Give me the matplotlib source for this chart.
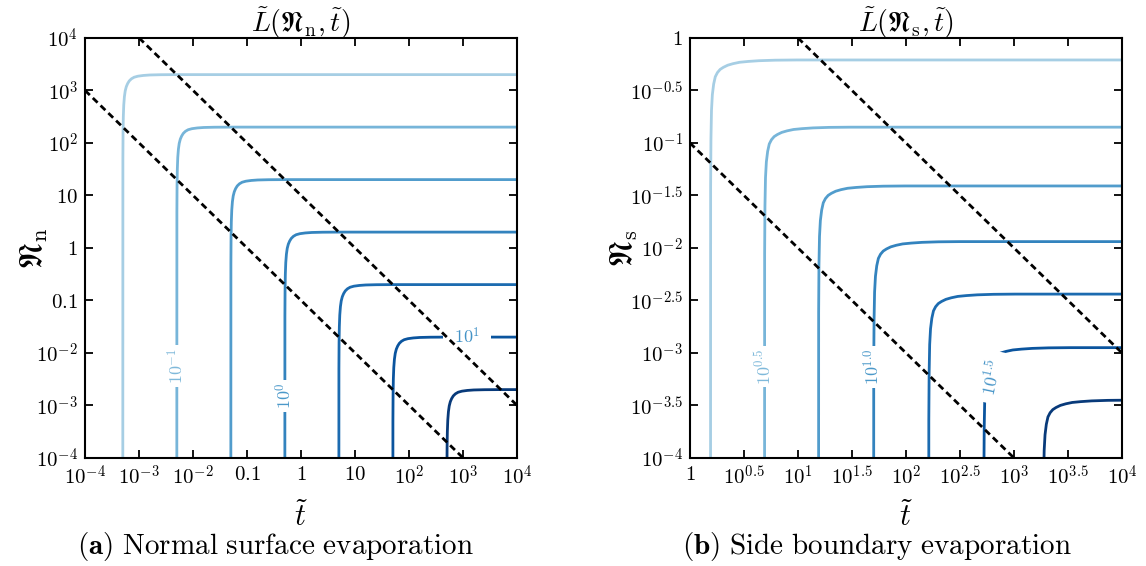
import numpy as np
import matplotlib
matplotlib.use('Agg')
import matplotlib.pyplot as plt
from matplotlib.ticker import FixedLocator, NullLocator

plt.rcParams['mathtext.fontset'] = 'cm'
plt.rcParams['font.family'] = 'serif'

# --- datos ---
# (a) evaporacion superficie normal: asintotas de cada contorno
left_t0 = [5e-4, 5e-3, 5e-2, 0.5, 5, 50, 500]
left_n0 = [2000, 200, 20, 2, 0.2, 0.02, 0.002]
# (b) evaporacion borde lateral (en decadas)
right_logt0 = [0.19, 0.69, 1.19, 1.70, 2.21, 2.72, 3.27]
right_logn0 = [-0.21, -0.85, -1.41, -1.94, -2.44, -2.95, -3.45]

# forma de la esquina de cada contorno: decadas despues de t0 / decadas bajo N0
left_du = [0.0, 0.002, 0.005, 0.01, 0.018, 0.03, 0.045, 0.065, 0.09, 0.12, 0.16,
           0.21, 0.28, 0.38, 0.5, 0.7, 1.0]
left_dn = [-9.0, -1.6, -1.1, -0.8, -0.58, -0.42, -0.31, -0.23, -0.17, -0.12, -0.08,
           -0.05, -0.03, -0.016, -0.007, -0.002, 0.0]
right_du = [0.0, 0.002, 0.005, 0.01, 0.018, 0.03, 0.045, 0.065, 0.09, 0.12, 0.16,
            0.21, 0.27, 0.35, 0.45, 0.6, 0.8]
right_dn = [-9.0, -1.2, -0.75, -0.48, -0.33, -0.23, -0.16, -0.12, -0.09, -0.07, -0.05,
            -0.035, -0.022, -0.014, -0.007, -0.002, 0.0]

# rectas punteadas (extremos)
left_dash_t = [[1e-3, 1e4], [1e-4, 1e3]]
left_dash_n = [[1e4, 1e-3], [1e3, 1e-4]]
right_dash_t = [[10, 1e4], [1, 1e3]]
right_dash_n = [[1, 1e-3], [1e-1, 1e-4]]

# etiquetas de contorno: (texto, indice de curva, t, N, rotacion, margen)
left_labels = [(r'$10^{-1}$', 1, 5e-3, 10**-2.25, 90, 0.15),
               (r'$10^{0}$', 3, 0.5, 10**-2.82, 90, 0.15),
               (r'$10^{1}$', 5, 1200, 0.02, 0, 0.6)]
right_labels = [(r'$10^{0.5}$', 1, 10**0.69, 10**-3.13, 90, 0.15),
                (r'$10^{1.0}$', 3, 10**1.70, 10**-3.13, 90, 0.15),
                (r'$10^{1.5}$', 5, 10**2.80, 10**-3.23, 78, 0.45)]

left_ticks = [1e-4, 1e-3, 1e-2, 0.1, 1, 10, 1e2, 1e3, 1e4]
left_ticklabels = [r'$10^{-4}$', r'$10^{-3}$', r'$10^{-2}$', r'$0.1$', r'$1$',
                   r'$10$', r'$10^{2}$', r'$10^{3}$', r'$10^{4}$']
right_xexp = [0, 0.5, 1, 1.5, 2, 2.5, 3, 3.5, 4]
right_xticklabels = [r'$1$', r'$10^{0.5}$', r'$10^{1}$', r'$10^{1.5}$', r'$10^{2}$',
                     r'$10^{2.5}$', r'$10^{3}$', r'$10^{3.5}$', r'$10^{4}$']
right_yexp = [0, -0.5, -1, -1.5, -2, -2.5, -3, -3.5, -4]
right_yticklabels = [r'$1$', r'$10^{-0.5}$', r'$10^{-1}$', r'$10^{-1.5}$', r'$10^{-2}$',
                     r'$10^{-2.5}$', r'$10^{-3}$', r'$10^{-3.5}$', r'$10^{-4}$']

colores = [plt.cm.Blues(v) for v in [0.35, 0.47, 0.58, 0.68, 0.77, 0.86, 0.96]]
colores_lbl = [plt.cm.Blues(v) for v in [0.35, 0.45, 0.55, 0.6, 0.65, 0.62, 0.7]]

fig = plt.figure(figsize=(11.46, 5.66), dpi=100)
axL = fig.add_axes([0.0742, 0.191, 0.377, 0.742])
axR = fig.add_axes([0.602, 0.191, 0.377, 0.742])


def dibujar(ax, t0s, n0s, du, dn, xmax, labels, dash_t, dash_n):
    for i, (t0, n0) in enumerate(zip(t0s, n0s)):
        t = [t0 * 10**u for u in du] + [xmax * 2]
        n = [n0 * 10**d for d in dn] + [n0]
        ax.plot(t, n, color=colores[i], lw=2.0, zorder=2)
    # etiquetas con fondo blanco para cortar la curva (como clabel)
    for txt, i, t, n, rot, pad in labels:
        ax.text(t, n, txt, color=colores_lbl[i], fontsize=13, rotation=rot,
                ha='center', va='center', rotation_mode='anchor', zorder=3,
                bbox=dict(boxstyle='square,pad=%.2f' % pad, fc='white', ec='none'))
    for tt, nn in zip(dash_t, dash_n):
        ax.plot(tt, nn, color='black', lw=2.0, linestyle=(0, (2.4, 1.5)), zorder=4)


dibujar(axL, left_t0, left_n0, left_du, left_dn, 1e4, left_labels, left_dash_t, left_dash_n)
dibujar(axR, [10**v for v in right_logt0], [10**v for v in right_logn0], right_du, right_dn,
        1e4, right_labels, right_dash_t, right_dash_n)

for ax in (axL, axR):
    ax.set_xscale('log')
    ax.set_yscale('log')
    ax.tick_params(which='major', direction='in', top=True, right=True,
                   length=6, width=1.3, labelsize=15, pad=5)
    for s in ax.spines.values():
        s.set_linewidth(1.5)
    ax.set_xlabel(r'$\tilde{t}$', fontsize=22)

axL.set_xlim(1e-4, 1e4)
axL.set_ylim(1e-4, 1e4)
axL.xaxis.set_major_locator(FixedLocator(left_ticks))
axL.yaxis.set_major_locator(FixedLocator(left_ticks))
axL.set_xticklabels(left_ticklabels)
axL.set_yticklabels(left_ticklabels)

axR.set_xlim(1, 1e4)
axR.set_ylim(1e-4, 1)
axR.xaxis.set_major_locator(FixedLocator([10**e for e in right_xexp]))
axR.yaxis.set_major_locator(FixedLocator([10**e for e in right_yexp]))
axR.set_xticklabels(right_xticklabels)
axR.set_yticklabels(right_yticklabels)

for ax in (axL, axR):
    ax.xaxis.set_minor_locator(NullLocator())
    ax.yaxis.set_minor_locator(NullLocator())
    ax.xaxis.set_label_coords(0.5, -0.105)

axL.set_title(r'$\tilde{L}(\mathfrak{N}_{\mathrm{n}},\tilde{t})$', fontsize=20, pad=4)
axR.set_title(r'$\tilde{L}(\mathfrak{N}_{\mathrm{s}},\tilde{t})$', fontsize=20, pad=4)
axL.set_ylabel(r'$\mathfrak{N}_{\mathrm{n}}$', fontsize=23)
axR.set_ylabel(r'$\mathfrak{N}_{\mathrm{s}}$', fontsize=23)
axL.yaxis.set_label_coords(-0.08, 0.5)
axR.yaxis.set_label_coords(-0.115, 0.5)

fig.text(0.24, 0.034, r'$\mathbf{(a)}\ \mathrm{Normal\ surface\ evaporation}$',
         fontsize=21, ha='center', va='center')
fig.text(0.765, 0.034, r'$\mathbf{(b)}\ \mathrm{Side\ boundary\ evaporation}$',
         fontsize=21, ha='center', va='center')

fig.savefig('out.png', dpi=100)
